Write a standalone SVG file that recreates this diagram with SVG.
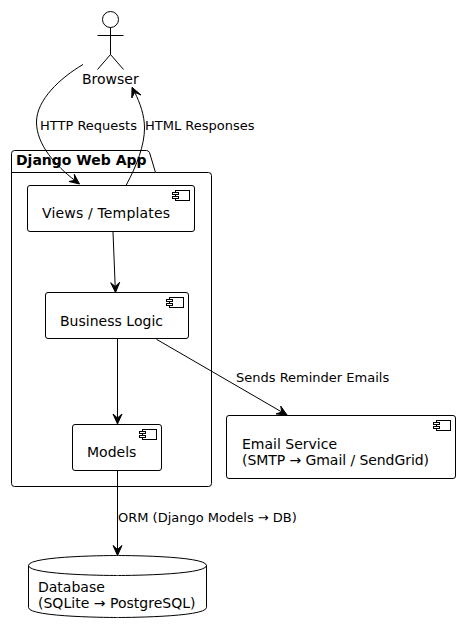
<svg xmlns="http://www.w3.org/2000/svg" width="460" height="633" viewBox="0 0 460 633">
<style>
text{font-family:"DejaVu Sans",sans-serif;fill:#000}
.n{font-size:14px}
.l{font-size:13px}
.s{fill:#fff;stroke:#000;stroke-width:1}
.c{fill:none;stroke:#000;stroke-width:1}
.a{fill:#000;stroke:#000;stroke-width:1}
</style>
<defs>
<g id="icon"><rect class="s" x="3" y="0" width="14" height="10"/><rect class="s" x="0" y="2" width="6" height="2"/><rect class="s" x="0" y="6" width="6" height="2"/></g>
</defs>
<g id="package">
<path class="s" d="M14.5 150.5H146.5Q148.5 150.5 149.5 152.5L155.5 172.5H208.5Q211.5 172.5 211.5 175.5V483.5Q211.5 486.5 208.5 486.5H14.5Q11.5 486.5 11.5 483.5V153.5Q11.5 150.5 14.5 150.5Z"/>
<path class="c" d="M11.5 172.5H155.5"/>
<text x="16" y="165" font-size="14" font-weight="bold">Django Web App</text>
</g>
<g id="browser">
<circle class="s" cx="110.5" cy="19.5" r="8"/>
<path class="c" d="M110.5 27.5V54.5M97.5 35.5H123.5M110.5 54.5L97.5 69.5M110.5 54.5L123.5 69.5"/>
<text class="n" x="82" y="84">Browser</text>
</g>
<g id="views">
<rect class="s" x="27.5" y="185.5" width="167" height="46" rx="2.5"/>
<use href="#icon" x="172.5" y="190.5"/>
<text class="n" x="42" y="218" textLength="128">Views / Templates</text>
</g>
<g id="logic">
<rect class="s" x="45.5" y="292.5" width="143" height="46" rx="2.5"/>
<use href="#icon" x="166.5" y="297.5"/>
<text class="n" x="60" y="326" textLength="103">Business Logic</text>
</g>
<g id="models">
<rect class="s" x="72.5" y="424.5" width="89" height="46" rx="2.5"/>
<use href="#icon" x="139.5" y="429.5"/>
<text class="n" x="87" y="457">Models</text>
</g>
<g id="email">
<rect class="s" x="226.5" y="415.5" width="229" height="63" rx="2.5"/>
<use href="#icon" x="433.5" y="420.5"/>
<text class="n" x="242" y="449">Email Service</text>
<text class="n" x="242" y="465" textLength="187">(SMTP → Gmail / SendGrid)</text>
</g>
<g id="database">
<path class="s" d="M28.5 565.5C28.5 555.5 117.5 555.5 117.5 555.5C117.5 555.5 206.5 555.5 206.5 565.5V607.5C206.5 617.5 117.5 617.5 117.5 617.5C117.5 617.5 28.5 617.5 28.5 607.5Z"/>
<path class="c" d="M28.5 565.5C28.5 575.5 117.5 575.5 117.5 575.5C117.5 575.5 206.5 575.5 206.5 565.5"/>
<text class="n" x="38" y="592">Database</text>
<text class="n" x="38" y="608" textLength="157.5">(SQLite → PostgreSQL)</text>
</g>
<g id="connectors">
<path class="c" d="M83 64.5C60 78 36.5 100 36.5 122C36.5 145 56 166 74.8 180.3"/>
<path class="a" d="M79.5 184L74.3 174.3L74.8 180.3L68.9 181.5Z"/>
<path class="c" d="M126.3 185C137 165 144.5 145 144.5 128C144.5 115 140 103 134.7 92.3"/>
<path class="a" d="M132 87.3L131.8 98L134.7 92.3L141 95Z"/>
<path class="c" d="M113 232L115.2 286.5"/>
<path class="a" d="M115.5 292.5L119.7 282.3L115.2 286.5L110.7 282.7Z"/>
<path class="c" d="M117.5 339V418"/>
<path class="a" d="M117.5 424L122 414L117.5 418L113 414Z"/>
<path class="c" d="M156.5 339.3L281.8 412"/>
<path class="a" d="M287.2 415.2L280.7 406.1L281.8 412L276.1 413.9Z"/>
<path class="c" d="M117.5 471V549.5"/>
<path class="a" d="M117.5 555.5L122 545.5L117.5 549.5L113 545.5Z"/>
<text class="l" x="40" y="130">HTTP Requests</text>
<text class="l" x="145" y="130">HTML Responses</text>
<text class="l" x="236" y="382">Sends Reminder Emails</text>
<text class="l" x="118" y="522">ORM (Django Models → DB)</text>
</g>
</svg>
